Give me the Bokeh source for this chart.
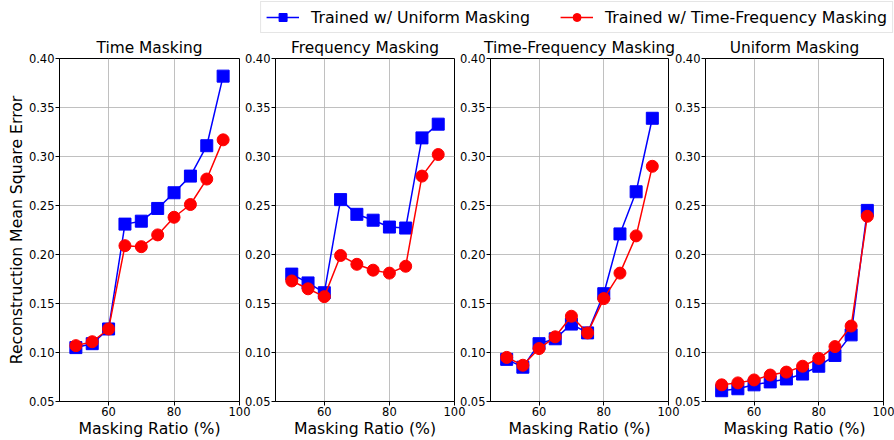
from bokeh.plotting import figure
from bokeh.layouts import row, column
from bokeh.models import Range1d, FixedTicker, NumeralTickFormatter, Legend, LegendItem
from bokeh.embed import file_html
from bokeh.resources import INLINE

FONT = "DejaVu Sans"
BLUE = "#0000ff"
RED = "#ff0000"

ratios = [50, 55, 60, 65, 70, 75, 80, 85, 90, 95]

titles = ["Time Masking", "Frequency Masking", "Time-Frequency Masking", "Uniform Masking"]

time_uniform = [0.105, 0.109, 0.124, 0.231, 0.234, 0.247, 0.263, 0.280, 0.311, 0.382]
time_tf = [0.107, 0.111, 0.124, 0.209, 0.208, 0.220, 0.238, 0.251, 0.277, 0.317]
freq_uniform = [0.180, 0.171, 0.161, 0.256, 0.241, 0.235, 0.228, 0.227, 0.319, 0.333]
freq_tf = [0.173, 0.165, 0.157, 0.199, 0.190, 0.184, 0.181, 0.188, 0.280, 0.302]
tf_uniform = [0.093, 0.085, 0.109, 0.114, 0.129, 0.120, 0.160, 0.221, 0.264, 0.339]
tf_tf = [0.095, 0.087, 0.104, 0.116, 0.137, 0.120, 0.155, 0.181, 0.219, 0.290]
uni_uniform = [0.061, 0.063, 0.067, 0.070, 0.073, 0.078, 0.086, 0.097, 0.118, 0.245]
uni_tf = [0.067, 0.069, 0.072, 0.077, 0.080, 0.086, 0.094, 0.106, 0.127, 0.239]

x_ticks = [60, 80, 100]
y_ticks = [0.05, 0.10, 0.15, 0.20, 0.25, 0.30, 0.35, 0.40]

label_uniform = "Trained w/ Uniform Masking"
label_tf = "Trained w/ Time-Frequency Masking"

series = [
    (time_uniform, time_tf),
    (freq_uniform, freq_tf),
    (tf_uniform, tf_tf),
    (uni_uniform, uni_tf),
]

frame_widths = [180, 179, 178, 178]
left_borders = [59, 36, 36, 37]
LEG_H = 34
ROW_H = 440 - LEG_H
OVER = 14


def make_panel(i):
    first = i == 0
    last = i == 3
    p = figure(
        frame_width=frame_widths[i], height=ROW_H,
        x_range=Range1d(45, 100), y_range=Range1d(0.05, 0.40),
        output_backend="svg", toolbar_location=None, title=titles[i],
        min_border_left=left_borders[i],
        min_border_right=11 if last else OVER,
        min_border_top=22, min_border_bottom=0,
        border_fill_alpha=0,
    )
    if not last:
        p.margin = (0, -OVER, 0, 0)
    p.title.align = "center"
    p.title.text_font = FONT
    p.title.text_font_size = "15.4px"
    p.title.text_font_style = "normal"
    p.title.text_color = "black"
    p.title.standoff = 4

    p.outline_line_color = "black"
    p.outline_line_alpha = 1.0
    p.outline_line_width = 1

    p.xaxis.ticker = FixedTicker(ticks=x_ticks)
    p.yaxis.ticker = FixedTicker(ticks=y_ticks)
    p.yaxis.formatter = NumeralTickFormatter(format="0.00")
    for ax in (p.xaxis, p.yaxis):
        ax.axis_line_color = "black"
        ax.major_tick_line_color = "black"
        ax.minor_tick_line_color = None
        ax.major_tick_in = 0
        ax.major_tick_out = 4
        ax.major_label_text_font = FONT
        ax.major_label_text_font_size = "11.5px"
        ax.major_label_text_color = "black"
        ax.major_label_standoff = 1
        ax.axis_label_text_font = FONT
        ax.axis_label_text_font_size = "15.7px"
        ax.axis_label_text_font_style = "normal"
        ax.axis_label_text_color = "black"
        ax.axis_label_standoff = 0
    p.xaxis.axis_label = "Masking Ratio (%)"
    if first:
        p.yaxis.axis_label = "Reconstruction Mean Square Error"

    p.xgrid.ticker = FixedTicker(ticks=x_ticks)
    p.ygrid.ticker = FixedTicker(ticks=y_ticks)
    p.grid.grid_line_color = "#b0b0b0"
    p.grid.grid_line_alpha = 0.8
    p.grid.grid_line_width = 1

    u, t = series[i]
    p.line(ratios, u, line_color=BLUE, line_width=1.5)
    p.scatter(ratios, u, marker="square", size=12, fill_color=BLUE, line_color=BLUE)
    p.line(ratios, t, line_color=RED, line_width=1.5)
    p.scatter(ratios, t, marker="circle", size=12, fill_color=RED, line_color=RED)
    return p


panels = [make_panel(i) for i in range(4)]

# legend strip
lf = figure(width=894, height=LEG_H, x_axis_type=None, y_axis_type=None,
            x_range=Range1d(0, 1), y_range=Range1d(0, 1),
            min_border=0, output_backend="svg", toolbar_location=None,
            border_fill_alpha=0, background_fill_alpha=0)
lf.outline_line_color = None
l1 = lf.line([-3, -2], [-3, -2], line_color=BLUE, line_width=1.5)
s1 = lf.scatter([-3], [-3], marker="square", size=12, fill_color=BLUE, line_color=BLUE)
l2 = lf.line([-3, -2], [-3, -2], line_color=RED, line_width=1.5)
s2 = lf.scatter([-3], [-3], marker="circle", size=12, fill_color=RED, line_color=RED)
legend = Legend(
    items=[LegendItem(label=label_uniform, renderers=[l1, s1]),
           LegendItem(label=label_tf, renderers=[l2, s2])],
    orientation="horizontal", location="bottom_right",
    label_text_font=FONT, label_text_font_size="15.8px", label_text_color="black",
    glyph_width=33, glyph_height=20, label_standoff=12, spacing=30,
    padding=5, margin=1,
    border_line_color="#cccccc", border_line_width=1,
    background_fill_color="white", background_fill_alpha=0.8,
)
lf.add_layout(legend)

layout = column(lf, row(*panels))

open("out.html", "w").write(file_html(layout, INLINE))
